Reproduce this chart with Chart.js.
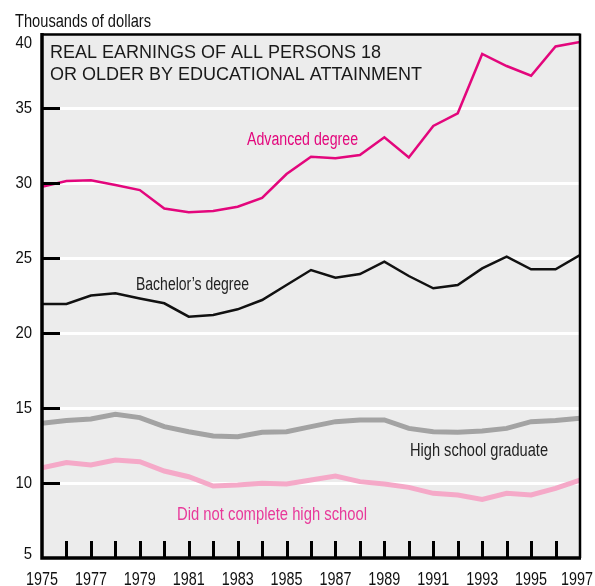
<!DOCTYPE html>
<html>
<head>
<meta charset="utf-8">
<script src="https://cdn.jsdelivr.net/npm/chart.js@4/dist/chart.umd.min.js"></script>
<style>
  html, body { margin: 0; padding: 0; background: #ffffff; }
  #wrap { width: 595px; height: 586px; }
</style>
</head>
<body>
<div id="wrap"><canvas id="c" width="595" height="586"></canvas></div>
<script>
// Real earnings (thousands of 1997 dollars), persons 18 and older
const years = [1975, 1976, 1977, 1978, 1979, 1980, 1981, 1982, 1983, 1984, 1985, 1986,
               1987, 1988, 1989, 1990, 1991, 1992, 1993, 1994, 1995, 1996, 1997];
const advancedDegree = [29.75, 30.13, 30.18, 29.87, 29.53, 28.30, 28.05, 28.13, 28.42, 29.00, 30.60, 31.75,
                        31.65, 31.87, 33.05, 31.70, 33.80, 34.65, 38.60, 37.80, 37.15, 39.10, 39.40];
const bachelorsDegree = [21.93, 21.93, 22.50, 22.65, 22.30, 21.98, 21.09, 21.20, 21.58, 22.20, 23.20, 24.20,
                         23.69, 23.93, 24.76, 23.80, 22.98, 23.20, 24.31, 25.09, 24.25, 24.25, 25.20];
const highSchoolGrad = [13.98, 14.16, 14.27, 14.58, 14.36, 13.76, 13.42, 13.13, 13.09, 13.38, 13.42, 13.76,
                        14.09, 14.20, 14.20, 13.64, 13.42, 13.38, 13.47, 13.64, 14.09, 14.16, 14.31];
const noHighSchool = [11.02, 11.36, 11.20, 11.53, 11.42, 10.80, 10.42, 9.80, 9.87, 9.98, 9.93, 10.20,
                      10.47, 10.09, 9.93, 9.71, 9.31, 9.20, 8.91, 9.31, 9.20, 9.64, 10.20];

const yTickValues = [5, 10, 15, 20, 25, 30, 35, 40];
const xLabelYears = [1975, 1977, 1979, 1981, 1983, 1985, 1987, 1989, 1991, 1993, 1995, 1997];
const titleLines = ['REAL EARNINGS OF ALL PERSONS 18', 'OR OLDER BY EDUCATIONAL ATTAINMENT'];
const unitLabel = 'Thousands of dollars';

const SANS = '"Liberation Sans", Arial, Helvetica, sans-serif';
const COLORS = {
  advanced: '#e3067c',
  bachelors: '#111111',
  hsGrad: '#a3a3a3',
  noHs: '#f5a9c8',
  noHsText: '#e8399a',
  panel: '#ececec'
};

const toPoints = vals => years.map((y, i) => ({ x: y, y: vals[i] }));

// Condensed lettering: regular sans squeezed to a set width
function narrowText(ctx, text, x, y, width) {
  ctx.fillText(text, x, y, width);
}

// Panel background, white grid, inward ticks, frame and text
const framePlugin = {
  id: 'frame',
  beforeDatasetsDraw(chart) {
    const { ctx, chartArea: a, scales: { y } } = chart;
    ctx.save();
    ctx.fillStyle = COLORS.panel;
    ctx.fillRect(a.left, a.top, a.right - a.left, a.bottom - a.top);
    ctx.strokeStyle = '#ffffff';
    ctx.lineWidth = 3;
    yTickValues.slice(1, -1).forEach(v => {
      const py = Math.round(y.getPixelForValue(v)) + 0.5;
      ctx.beginPath();
      ctx.moveTo(a.left, py);
      ctx.lineTo(a.right, py);
      ctx.stroke();
    });
    ctx.restore();
  },
  afterDatasetsDraw(chart) {
    const { ctx, chartArea: a, scales: { x, y } } = chart;
    ctx.save();
    ctx.strokeStyle = '#000000';
    ctx.lineCap = 'butt';

    // inward ticks on the left axis
    ctx.lineWidth = 3;
    yTickValues.slice(1, -1).forEach(v => {
      const py = Math.round(y.getPixelForValue(v)) + 0.5;
      ctx.beginPath();
      ctx.moveTo(a.left, py);
      ctx.lineTo(a.left + 18, py);
      ctx.stroke();
    });
    // inward ticks on the bottom axis
    years.slice(1, -1).forEach(yr => {
      const px = Math.round(x.getPixelForValue(yr)) + 0.5;
      ctx.beginPath();
      ctx.moveTo(px, a.bottom);
      ctx.lineTo(px, a.bottom - 17);
      ctx.stroke();
    });

    // frame
    ctx.lineWidth = 2.5;
    ctx.beginPath();
    ctx.moveTo(a.left, a.top + 1.5);
    ctx.lineTo(a.right, a.top + 1.5);
    ctx.moveTo(a.right, a.top + 0.5);
    ctx.lineTo(a.right, a.bottom);
    ctx.stroke();
    ctx.lineWidth = 3.5;
    ctx.beginPath();
    ctx.moveTo(a.left, a.top);
    ctx.lineTo(a.left, a.bottom);
    ctx.lineTo(a.right + 1, a.bottom);
    ctx.stroke();

    // y tick labels
    ctx.fillStyle = '#111111';
    ctx.font = '17px ' + SANS;
    ctx.textAlign = 'right';
    ctx.textBaseline = 'middle';
    yTickValues.forEach(v => {
      let py = y.getPixelForValue(v);
      py = Math.min(Math.max(py, a.top + 10), a.bottom - 4);
      const s = String(v);
      narrowText(ctx, s, 32, py, s.length * 8.3);
    });

    // x tick labels
    ctx.font = '18px ' + SANS;
    ctx.textAlign = 'center';
    ctx.textBaseline = 'alphabetic';
    xLabelYears.forEach(yr => {
      let px = x.getPixelForValue(yr);
      px = Math.min(px, chart.width - 18);
      narrowText(ctx, String(yr), px, 585, 32);
    });

    // unit label
    ctx.font = '18.5px ' + SANS;
    ctx.textAlign = 'left';
    narrowText(ctx, unitLabel, 15, 27, 136);

    // panel title
    ctx.font = '18px ' + SANS;
    ctx.fillStyle = '#1a1a1a';
    ctx.fillText(titleLines[0], 50, 58);
    ctx.fillText(titleLines[1], 50, 80);

    // series labels
    ctx.font = '18px ' + SANS;
    ctx.fillStyle = COLORS.advanced;
    narrowText(ctx, 'Advanced degree', 247, 145, 111);
    ctx.fillStyle = '#222222';
    narrowText(ctx, 'Bachelor\u2019s degree', 136, 290, 113);
    narrowText(ctx, 'High school graduate', 410, 456, 138);
    ctx.fillStyle = COLORS.noHsText;
    narrowText(ctx, 'Did not complete high school', 177, 520, 190);
    ctx.restore();
  }
};

new Chart(document.getElementById('c'), {
  type: 'line',
  data: {
    datasets: [
      { label: 'Did not complete high school', data: toPoints(noHighSchool),
        borderColor: COLORS.noHs, borderWidth: 5 },
      { label: 'High school graduate', data: toPoints(highSchoolGrad),
        borderColor: COLORS.hsGrad, borderWidth: 5 },
      { label: "Bachelor's degree", data: toPoints(bachelorsDegree),
        borderColor: COLORS.bachelors, borderWidth: 2.5 },
      { label: 'Advanced degree', data: toPoints(advancedDegree),
        borderColor: COLORS.advanced, borderWidth: 2.5 }
    ]
  },
  options: {
    responsive: false,
    animation: false,
    devicePixelRatio: 1,
    layout: { padding: { left: 42, right: 15, top: 33, bottom: 28 } },
    elements: {
      point: { radius: 0, hoverRadius: 0 },
      line: { tension: 0, fill: false, borderJoinStyle: 'miter', borderCapStyle: 'butt' }
    },
    scales: {
      x: { type: 'linear', min: 1975, max: 1997, display: false },
      y: { type: 'linear', min: 5, max: 40, display: false }
    },
    plugins: {
      legend: { display: false },
      tooltip: { enabled: false },
      title: { display: false }
    }
  },
  plugins: [framePlugin]
});
</script>
</body>
</html>
